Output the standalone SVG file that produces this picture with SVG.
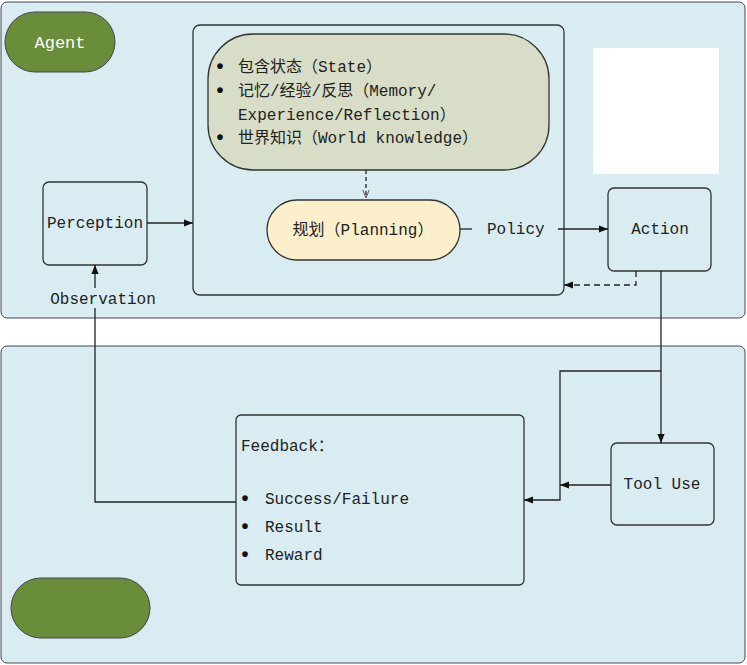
<svg xmlns="http://www.w3.org/2000/svg" width="747" height="665" viewBox="0 0 747 665">
<defs>
<style>
text{font-family:"Liberation Mono","Noto Sans CJK SC",monospace;font-size:16px;fill:#222}
.b{font-size:20px;font-weight:bold;fill:#111}
.box{fill:#d9ecf2;stroke:#333;stroke-width:1.3}
.ln{fill:none;stroke:#222;stroke-width:1.3}
</style>
<marker id="ah" viewBox="0 0 10 10" refX="10" refY="5" markerWidth="9" markerHeight="9" orient="auto" markerUnits="userSpaceOnUse"><path d="M0,1 L10,5 L0,9 z" fill="#111"/></marker>
<marker id="ov" viewBox="0 0 10 10" refX="10" refY="5" markerWidth="8" markerHeight="8" orient="auto" markerUnits="userSpaceOnUse"><path d="M0,1 L10,5 L0,9" fill="none" stroke="#333"/></marker>
</defs>
<rect width="747" height="665" fill="#fff"/>
<g id="agent-panel"><rect x="1" y="2" width="744" height="316" rx="6" fill="#d9ecf2" stroke="#445"/></g>
<g id="env-panel"><rect x="1" y="346" width="744" height="317" rx="6" fill="#d9ecf2" stroke="#445"/></g>
<g id="agent-label"><rect x="5" y="12" width="110" height="60" rx="30" fill="#6a8d39" stroke="#445"/><text x="60" y="48" text-anchor="middle" style="fill:#fff;font-size:17px">Agent</text></g>
<g id="env-label"><rect x="11" y="578" width="139" height="60" rx="30" fill="#6a8d39" stroke="#445"/></g>
<g id="blank"><rect x="593" y="48" width="126" height="126" fill="#fff"/></g>
<g id="brain"><rect x="193" y="25" width="371" height="270" rx="7" class="box"/></g>
<g id="state"><rect x="208" y="34" width="341" height="136" rx="45" fill="#d8ddc8" stroke="#333" stroke-width="1.3"/>
<text x="214" y="73" class="b">•</text><text x="238" y="72">包含状态（State）</text>
<text x="214" y="97" class="b">•</text><text x="238" y="96">记忆/经验/反思（Memory/</text>
<text x="238" y="120">Experience/Reflection）</text>
<text x="214" y="144" class="b">•</text><text x="238" y="143">世界知识（World knowledge）</text></g>
<g id="planning"><rect x="267" y="200" width="193" height="60" rx="30" fill="#fcf0cc" stroke="#333" stroke-width="1.3"/><text x="363" y="235" text-anchor="middle">规划（Planning）</text></g>
<g id="perception"><rect x="43" y="182" width="104" height="83" rx="6" class="box"/><text x="95" y="228" text-anchor="middle">Perception</text></g>
<g id="action"><rect x="608" y="188" width="103" height="83" rx="6" class="box"/><text x="660" y="234" text-anchor="middle">Action</text></g>
<g id="tooluse"><rect x="611" y="443" width="103" height="82" rx="6" class="box"/><text x="662" y="489" text-anchor="middle">Tool Use</text></g>
<g id="feedback"><rect x="236" y="415" width="288" height="170" rx="5" class="box"/>
<text x="241" y="451">Feedback：</text>
<text x="239" y="505" class="b">•</text><text x="265" y="504">Success/Failure</text>
<text x="239" y="533" class="b">•</text><text x="265" y="532">Result</text>
<text x="239" y="561" class="b">•</text><text x="265" y="560">Reward</text></g>
<g id="connectors">
<path class="ln" d="M147,223 H193" marker-end="url(#ah)"/>
<path class="ln" d="M366,170 V198" stroke-dasharray="4,3" marker-end="url(#ov)"/>
<path class="ln" d="M460,229 H472"/>
<text x="487" y="234">Policy</text>
<path class="ln" d="M558,229 H608" marker-end="url(#ah)"/>
<path class="ln" d="M636,271 V285 H564" stroke-dasharray="6,4" marker-end="url(#ah)"/>
<path class="ln" d="M661,271 V443" marker-end="url(#ah)"/>
<path class="ln" d="M661,371 H560 V500 H524" marker-end="url(#ah)"/>
<path class="ln" d="M611,485 H560" marker-end="url(#ah)"/>
<path class="ln" d="M236,502 H95 V265" marker-end="url(#ah)"/>
<rect x="50" y="288" width="108" height="20" fill="#d9ecf2"/>
<text x="103" y="304" text-anchor="middle">Observation</text>
</g>
</svg>
